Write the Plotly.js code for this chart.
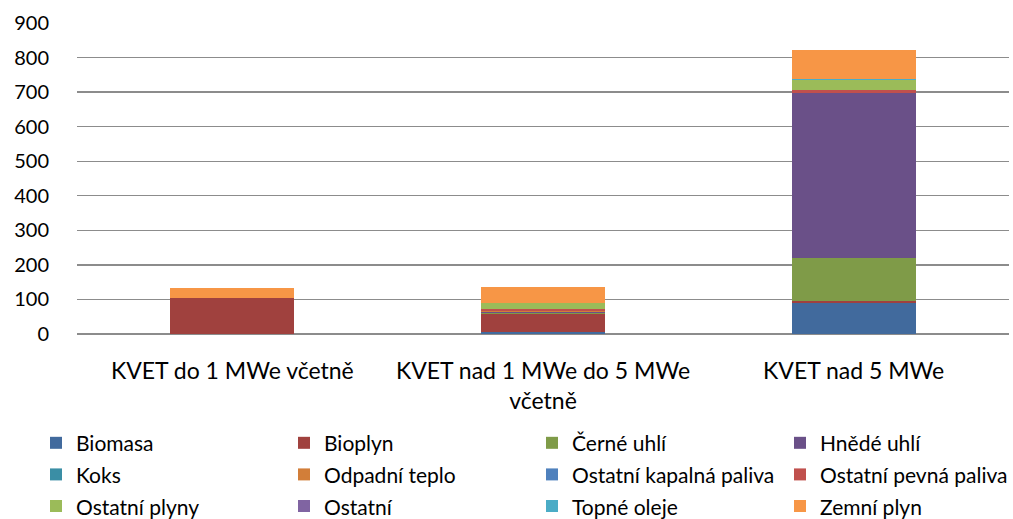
<!DOCTYPE html>
<html>
<head>
<meta charset="utf-8">
<script src="https://cdn.plot.ly/plotly-3.0.1.min.js"></script>
<style>html,body{margin:0;padding:0;background:#fff;}#chart{width:1013px;height:519px;}</style>
</head>
<body>
<div id="chart"></div>
<script>
var categories = ["KVET do 1 MWe včetně", "KVET nad 1 MWe do 5 MWe<br>včetně", "KVET nad 5 MWe"];
var seriesNames = ["Biomasa", "Bioplyn", "Černé uhlí", "Hnědé uhlí", "Koks", "Odpadní teplo",
  "Ostatní kapalná paliva", "Ostatní pevná paliva", "Ostatní plyny", "Ostatní", "Topné oleje", "Zemní plyn"];
var biomasa = [0, 7, 89];
var bioplyn = [104, 51, 6];
var cerneUhli = [0, 3, 126];
var hnedeUhli = [0, 4, 475];
var koks = [0, 0, 0];
var odpadniTeplo = [0, 2, 0];
var ostatniKapalna = [0, 1, 0];
var ostatniPevna = [0, 3, 9];
var ostatniPlyny = [0, 18, 31];
var ostatni = [0, 0, 0];
var topneOleje = [0, 0, 2];
var zemniPlyn = [29, 46, 85];
var yTicks = [0, 100, 200, 300, 400, 500, 600, 700, 800, 900];

var seriesValues = [biomasa, bioplyn, cerneUhli, hnedeUhli, koks, odpadniTeplo,
  ostatniKapalna, ostatniPevna, ostatniPlyny, ostatni, topneOleje, zemniPlyn];
var colors = ["#416A9D", "#A0413E", "#7F9B48", "#6A5088", "#3A8EA5", "#D27E39",
  "#4F81BD", "#C0504D", "#9BBB59", "#8064A2", "#4BACC6", "#F79646"];

var FONT = "Lato, 'Open Sans', sans-serif";
var traces = seriesNames.map(function (n, i) {
  return {
    type: "bar",
    name: '<span style="font-size:21px">' + n + '</span>',
    x: categories,
    y: seriesValues[i],
    marker: {color: colors[i], line: {width: 0}},
    hoverinfo: "x+y+name"
  };
});

var layout = {
  width: 1013, height: 519,
  margin: {l: 77, r: 4, t: 23, b: 185, autoexpand: false},
  barmode: "stack",
  bargap: 0.6,
  paper_bgcolor: "#fff", plot_bgcolor: "#fff",
  font: {family: FONT, color: "#000", size: 20},
  xaxis: {
    tickfont: {family: FONT, size: 23, color: "#000"},
    showgrid: false, zeroline: false, showline: false,
    ticks: "outside", ticklen: 16, tickcolor: "rgba(0,0,0,0)",
    automargin: false, fixedrange: true
  },
  yaxis: {
    range: [0, 900], tickvals: yTicks, ticktext: yTicks.map(String),
    showgrid: true, gridcolor: "#8C8C8C", gridwidth: 1.3,
    zeroline: true, zerolinecolor: "#8C8C8C", zerolinewidth: 1.3,
    showline: false,
    tickfont: {family: FONT, size: 20, color: "#000"},
    ticks: "outside", ticklen: 23, tickcolor: "rgba(0,0,0,0)",
    automargin: false, fixedrange: true
  },
  showlegend: true,
  legend: {
    orientation: "h", x: -0.044, xanchor: "left", y: -0.283, yanchor: "top",
    entrywidth: 203, entrywidthmode: "pixels",
    font: {family: FONT, size: 22, color: "#000"},
    traceorder: "normal", itemclick: false, itemdoubleclick: false
  }
};

Plotly.newPlot("chart", traces, layout, {displayModeBar: false, staticPlot: true});
</script>
</body>
</html>
